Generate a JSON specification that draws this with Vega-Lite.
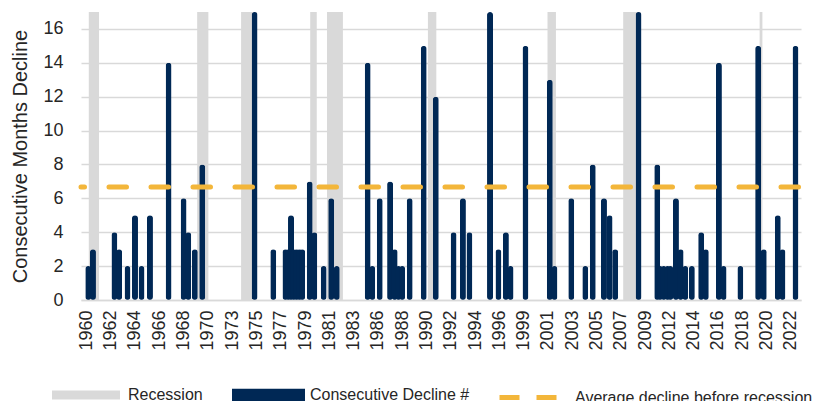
{
  "$schema": "https://vega.github.io/schema/vega-lite/v6.json",
  "width": 720,
  "height": 288,
  "autosize": {"type": "none"},
  "padding": {"left": 81, "top": 12, "right": 14, "bottom": 101},
  "config": {
    "font": "Liberation Sans",
    "view": {"stroke": null},
    "axis": {"labelColor": "#262626", "titleColor": "#262626", "labelOverlap": false},
    "legend": {"padding": 0, "labelFontSize": 16, "labelColor": "#262626", "labelLimit": 400, "orient": "none"}
  },
  "datasets": {
    "recessions": [
      {"start": "1960-04-01", "end": "1961-03-01"},
      {"start": "1969-12-01", "end": "1970-12-01"},
      {"start": "1973-11-01", "end": "1975-04-01"},
      {"start": "1980-01-01", "end": "1980-08-01"},
      {"start": "1981-07-01", "end": "1982-12-01"},
      {"start": "1990-07-01", "end": "1991-04-01"},
      {"start": "2001-03-01", "end": "2001-12-01"},
      {"start": "2007-12-01", "end": "2009-07-01"},
      {"start": "2020-02-01", "end": "2020-05-01"}
    ],
    "bars": [
      {"date": "1960-03-15", "value": 2},
      {"date": "1960-08-15", "value": 3},
      {"date": "1962-07-15", "value": 4},
      {"date": "1962-12-15", "value": 3},
      {"date": "1963-09-15", "value": 2},
      {"date": "1964-05-15", "value": 5},
      {"date": "1964-12-15", "value": 2},
      {"date": "1965-09-15", "value": 5},
      {"date": "1967-05-15", "value": 14},
      {"date": "1968-09-15", "value": 6},
      {"date": "1969-02-15", "value": 4},
      {"date": "1969-09-15", "value": 3},
      {"date": "1970-05-15", "value": 8},
      {"date": "1975-01-15", "value": 18},
      {"date": "1976-09-15", "value": 3},
      {"date": "1977-10-15", "value": 3},
      {"date": "1978-01-15", "value": 3},
      {"date": "1978-04-15", "value": 5},
      {"date": "1978-07-15", "value": 3},
      {"date": "1978-10-15", "value": 3},
      {"date": "1979-01-15", "value": 3},
      {"date": "1979-04-15", "value": 3},
      {"date": "1979-12-15", "value": 7},
      {"date": "1980-05-15", "value": 4},
      {"date": "1981-03-15", "value": 2},
      {"date": "1981-11-15", "value": 6},
      {"date": "1982-05-15", "value": 2},
      {"date": "1985-02-15", "value": 14},
      {"date": "1985-07-15", "value": 2},
      {"date": "1986-03-15", "value": 6},
      {"date": "1987-02-15", "value": 7},
      {"date": "1987-07-15", "value": 3},
      {"date": "1987-11-15", "value": 2},
      {"date": "1988-03-15", "value": 2},
      {"date": "1988-11-15", "value": 6},
      {"date": "1990-02-15", "value": 15},
      {"date": "1991-03-15", "value": 12},
      {"date": "1992-10-15", "value": 4},
      {"date": "1993-08-15", "value": 6},
      {"date": "1994-03-15", "value": 4},
      {"date": "1996-01-15", "value": 18},
      {"date": "1996-10-15", "value": 3},
      {"date": "1997-06-15", "value": 4},
      {"date": "1997-11-15", "value": 2},
      {"date": "1999-03-15", "value": 15},
      {"date": "2001-05-15", "value": 13},
      {"date": "2001-10-15", "value": 2},
      {"date": "2003-04-15", "value": 6},
      {"date": "2004-07-15", "value": 2},
      {"date": "2005-03-15", "value": 8},
      {"date": "2006-03-15", "value": 6},
      {"date": "2006-09-15", "value": 5},
      {"date": "2007-03-15", "value": 3},
      {"date": "2009-04-15", "value": 18},
      {"date": "2010-12-15", "value": 8},
      {"date": "2011-03-15", "value": 2},
      {"date": "2011-07-15", "value": 2},
      {"date": "2011-11-15", "value": 2},
      {"date": "2012-02-15", "value": 2},
      {"date": "2012-08-15", "value": 6},
      {"date": "2013-01-15", "value": 3},
      {"date": "2013-06-15", "value": 2},
      {"date": "2014-01-15", "value": 2},
      {"date": "2014-11-15", "value": 4},
      {"date": "2015-04-15", "value": 3},
      {"date": "2016-06-15", "value": 14},
      {"date": "2016-11-15", "value": 2},
      {"date": "2018-05-15", "value": 2},
      {"date": "2019-12-15", "value": 15},
      {"date": "2020-06-15", "value": 3},
      {"date": "2021-09-15", "value": 5},
      {"date": "2022-02-15", "value": 3},
      {"date": "2023-04-15", "value": 15}
    ],
    "avg": [{"value": 6.67}]
  },
  "layer": [
    {
      "data": {"name": "recessions"},
      "mark": {"type": "rect"},
      "encoding": {
        "x": {
          "field": "start",
          "type": "temporal",
          "scale": {"type": "utc", "domain": [{"year": 1960, "month": 1, "date": 1, "utc": true}, {"year": 2023, "month": 5, "date": 1, "utc": true}]},
          "axis": {
            "title": null,
            "values": [
              {"year": 1960, "month": 1, "date": 15, "utc": true},
              {"year": 1962, "month": 3, "date": 15, "utc": true},
              {"year": 1964, "month": 5, "date": 15, "utc": true},
              {"year": 1966, "month": 7, "date": 15, "utc": true},
              {"year": 1968, "month": 9, "date": 15, "utc": true},
              {"year": 1970, "month": 11, "date": 15, "utc": true},
              {"year": 1973, "month": 1, "date": 15, "utc": true},
              {"year": 1975, "month": 3, "date": 15, "utc": true},
              {"year": 1977, "month": 5, "date": 15, "utc": true},
              {"year": 1979, "month": 7, "date": 15, "utc": true},
              {"year": 1981, "month": 9, "date": 15, "utc": true},
              {"year": 1983, "month": 11, "date": 15, "utc": true},
              {"year": 1986, "month": 1, "date": 15, "utc": true},
              {"year": 1988, "month": 3, "date": 15, "utc": true},
              {"year": 1990, "month": 5, "date": 15, "utc": true},
              {"year": 1992, "month": 7, "date": 15, "utc": true},
              {"year": 1994, "month": 9, "date": 15, "utc": true},
              {"year": 1996, "month": 11, "date": 15, "utc": true},
              {"year": 1999, "month": 1, "date": 15, "utc": true},
              {"year": 2001, "month": 3, "date": 15, "utc": true},
              {"year": 2003, "month": 5, "date": 15, "utc": true},
              {"year": 2005, "month": 7, "date": 15, "utc": true},
              {"year": 2007, "month": 9, "date": 15, "utc": true},
              {"year": 2009, "month": 11, "date": 15, "utc": true},
              {"year": 2012, "month": 1, "date": 15, "utc": true},
              {"year": 2014, "month": 3, "date": 15, "utc": true},
              {"year": 2016, "month": 5, "date": 15, "utc": true},
              {"year": 2018, "month": 7, "date": 15, "utc": true},
              {"year": 2020, "month": 9, "date": 15, "utc": true},
              {"year": 2022, "month": 11, "date": 15, "utc": true}
            ],
            "tickCount": 100,
            "format": "%Y",
            "labelAngle": -90,
            "labelAlign": "right",
            "labelBaseline": "middle",
            "labelFontSize": 18,
            "labelPadding": 10,
            "labelOverlap": false,
            "labelFlush": false,
            "ticks": false,
            "grid": false,
            "domainColor": "#d9d9d9",
            "domainWidth": 1.5,
            "zindex": 1
          }
        },
        "x2": {"field": "end"},
        "color": {
          "datum": "Recession",
          "scale": {"range": ["#d9d9d9"]},
          "legend": {"title": null, "orient": "none", "legendX": -29, "legendY": 349, "symbolType": "M-1,-0.13H1V0.13H-1Z", "symbolSize": 4624, "symbolStrokeWidth": 0, "labelOffset": 8}
        }
      }
    },
    {
      "data": {"name": "bars"},
      "mark": {"type": "bar", "size": 6, "cornerRadius": 3},
      "encoding": {
        "x": {"field": "date", "type": "temporal"},
        "y": {
          "field": "value",
          "type": "quantitative",
          "scale": {"domain": [0, 17], "clamp": true, "nice": false},
          "axis": {
            "title": "Consecutive Months Decline",
            "titleFontSize": 20,
            "titleFontWeight": "normal",
            "titlePadding": 12,
            "values": [0, 2, 4, 6, 8, 10, 12, 14, 16],
            "format": "d",
            "tickCount": 100,
            "labelFontSize": 18,
            "labelPadding": 18,
            "labelOverlap": false,
            "ticks": false,
            "domain": false,
            "gridColor": "#d9d9d9",
            "gridWidth": 1.5
          }
        },
        "color": {
          "datum": "Consecutive Decline #",
          "scale": {"range": ["#002855"]},
          "legend": {"title": null, "orient": "none", "legendX": 151, "legendY": 346.5, "symbolType": "M-1,-0.17H1V0.17H-1Z", "symbolSize": 5329, "symbolStrokeWidth": 0, "labelOffset": 5}
        }
      }
    },
    {
      "data": {"name": "avg"},
      "mark": {"type": "rule", "strokeWidth": 5, "strokeDash": [17.5, 24.5], "strokeDashOffset": 39.5, "strokeCap": "round"},
      "encoding": {
        "y": {
          "field": "value",
          "type": "quantitative",
          "scale": {"domain": [0, 17], "clamp": true, "nice": false},
          "axis": {
            "title": "Consecutive Months Decline",
            "titleFontSize": 20,
            "titleFontWeight": "normal",
            "titlePadding": 12,
            "values": [0, 2, 4, 6, 8, 10, 12, 14, 16],
            "format": "d",
            "tickCount": 100,
            "labelFontSize": 18,
            "labelPadding": 18,
            "labelOverlap": false,
            "ticks": false,
            "domain": false,
            "gridColor": "#d9d9d9",
            "gridWidth": 1.5
          }
        },
        "color": {
          "datum": "Average decline before recession",
          "scale": {"range": ["#f3b63a"]},
          "legend": {"title": null, "orient": "none", "legendX": 416, "legendY": 354.5, "symbolType": "stroke", "symbolSize": 3249, "symbolStrokeWidth": 5, "symbolDash": [20, 17], "labelOffset": 16}
        }
      }
    }
  ],
  "resolve": {"scale": {"color": "independent"}}
}
